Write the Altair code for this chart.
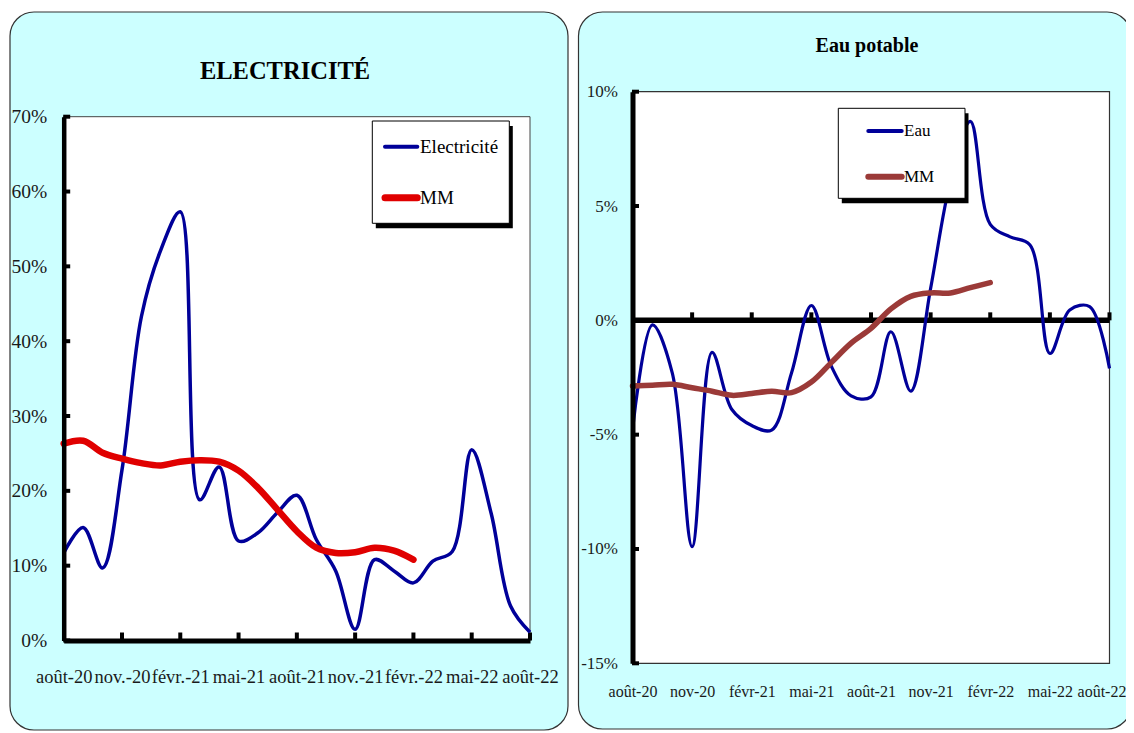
import altair as alt
import pandas as pd

# ---------------- data ----------------
months = list(range(25))  # août-20 ... août-22
elec = [11.7, 15.1, 9.7, 22.8, 43.3, 52.2, 57.3, 18.8, 23.2, 13.3, 14.4, 17.1, 19.4,
        13.5, 9.3, 1.5, 10.8, 9.3, 7.7, 10.6, 11.9, 25.5, 17.0, 4.6, 1.1]
elec_mm = [26.3, 26.7, 25.1, 24.3, 23.7, 23.4, 23.9, 24.1, 23.9, 22.7, 20.4, 17.5,
           14.6, 12.4, 11.7, 11.8, 12.4, 12.0, 10.8]
eau = [-4.8, -0.2, -2.3, -9.9, -1.4, -3.9, -4.6, -4.8, -2.3, 0.65, -2.0, -3.3, -3.35,
       -0.5, -3.1, 1.4, 6.1, 8.7, 4.2, 3.65, 3.3, -1.45, 0.45, 0.6, -2.1]
eau_mm = [-2.87, -2.84, -2.8, -2.95, -3.1, -3.28, -3.2, -3.1, -3.16, -2.7, -1.85, -1.0,
          -0.35, 0.5, 1.05, 1.2, 1.2, 1.43, 1.65]

x_tick_values = [0, 3, 6, 9, 12, 15, 18, 21, 24]
elec_x_labels = ["août-20", "nov.-20", "févr.-21", "mai-21", "août-21", "nov.-21",
                 "févr.-22", "mai-22", "août-22"]
eau_x_labels = ["août-20", "nov-20", "févr-21", "mai-21", "août-21", "nov-21",
                "févr-22", "mai-22", "août-22"]
elec_y_ticks = [0, 10, 20, 30, 40, 50, 60, 70]
eau_y_ticks = [-15, -10, -5, 0, 5, 10]

elec_title = "ELECTRICITÉ"
eau_title = "Eau potable"
elec_legend = ["Electricité", "MM"]
eau_legend = ["Eau", "MM"]

BLUE = "#000099"
RED = "#E00000"
BROWN = "#9B3A38"
CYAN = "#CCFFFF"
FONT = "Liberation Serif"

# ---------------- frames ----------------
df_elec = pd.DataFrame({"m": months, "v": elec})
df_elec_mm = pd.DataFrame({"m": months[:len(elec_mm)], "v": elec_mm})
df_eau = pd.DataFrame({"m": months, "v": eau})
df_eau_mm = pd.DataFrame({"m": months[:len(eau_mm)], "v": eau_mm})

one = pd.DataFrame({"k": [0]})


def label_expr(labels):
    arr = ",".join("'" + s + "'" for s in labels)
    return "[" + arr + "][round(datum.value/3)]"


# ---------------- panel backgrounds ----------------
def box(x0, x1, y0, y1, **kw):
    return alt.Chart(one).mark_rect(**kw).encode(
        x=alt.value(x0), x2=alt.value(x1), y=alt.value(y0), y2=alt.value(y1))


bg = alt.layer(
    box(2, 560, 4, 722, fill=CYAN, stroke="#333333", strokeWidth=1.2, cornerRadius=24),
    box(570.5, 1123, 4, 721, fill=CYAN, stroke="#333333", strokeWidth=1.2, cornerRadius=24),
)


def text_mark(txt, x, y, size, bold=False, align="center", baseline="alphabetic"):
    return alt.Chart(one).mark_text(
        text=txt, font=FONT, fontSize=size, fontWeight="bold" if bold else "normal",
        align=align, baseline=baseline, color="black"
    ).encode(x=alt.value(x), y=alt.value(y))


def legend(bx0, by0, bx1, by1, sx0, sx1, tx, items, size, dx=4, dy=5):
    layers = [
        box(bx0 + dx, bx1 + dx, by0 + dy, by1 + dy, fill="black"),
        box(bx0, bx1, by0, by1, fill="white", stroke="black", strokeWidth=1),
    ]
    for lab, col, w, yy in items:
        layers.append(alt.Chart(one).mark_rule(color=col, strokeWidth=w, strokeCap="round").encode(
            x=alt.value(sx0), x2=alt.value(sx1), y=alt.value(yy)))
        layers.append(text_mark(lab, tx, yy, size, align="left", baseline="middle"))
    return alt.layer(*layers)


# ---------------- panel 1 : électricité ----------------
X1 = alt.Scale(domain=[0, 24], range=[55.7, 522], nice=False, zero=False)
Y1 = alt.Scale(domain=[0, 70], range=[632.5, 108.7], nice=False, zero=False)

ax1 = alt.Axis(orient="bottom", offset=-92.5, values=x_tick_values,
               labelExpr=label_expr(elec_x_labels), labelOverlap=False, labelFlush=False,
               domain=True, domainColor="black", domainWidth=5, ticks=False, tickSize=0,
               grid=False, labelFont=FONT, labelFontSize=18.5, labelColor="#1a1a1a",
               labelPadding=27, title=None, zindex=1)
ay1 = alt.Axis(orient="left", offset=-55.7, values=elec_y_ticks,
               labelExpr="datum.value + '%'", labelOverlap=False, labelFlush=False,
               domain=True, domainColor="black", domainWidth=4.5, ticks=False, tickSize=0,
               grid=False, labelFont=FONT, labelFontSize=19.5, labelColor="#1a1a1a",
               labelPadding=17, title=None, zindex=1)


def enc1(xf, yf):
    return dict(x=alt.X(xf, scale=X1, axis=ax1, title=None),
                y=alt.Y(yf, scale=Y1, axis=ay1, title=None))


p1_rect = alt.Chart(pd.DataFrame({"x0": [0], "x1": [24], "y0": [0], "y1": [70]})).mark_rect(
    fill="white", stroke="#444444", strokeWidth=1
).encode(x2="x1:Q", y2="y1:Q", **enc1("x0:Q", "y0:Q"))

p1_xticks = alt.Chart(pd.DataFrame({"m": x_tick_values[1:], "y": 0})).mark_tick(
    orient="vertical", size=8, thickness=4, color="black", opacity=1, yOffset=-4
).encode(**enc1("m:Q", "y:Q"))

p1_yticks = alt.Chart(pd.DataFrame({"m": 0, "y": elec_y_ticks})).mark_tick(
    orient="horizontal", size=7, thickness=4, color="black", opacity=1, xOffset=3
).encode(**enc1("m:Q", "y:Q"))

p1_line = alt.Chart(df_elec).mark_line(
    color=BLUE, strokeWidth=3.5, interpolate="catmull-rom"
).encode(**enc1("m:Q", "v:Q"))

p1_mm = alt.Chart(df_elec_mm).mark_line(
    color=RED, strokeWidth=6.5, interpolate="catmull-rom", strokeCap="round"
).encode(**enc1("m:Q", "v:Q"))

p1_title = text_mark(elec_title, 277, 71, 24.5, bold=True)
p1_legend = legend(364.3, 113, 501.3, 215.3, 377, 409.3, 412,
                   [(elec_legend[0], BLUE, 4, 138.7), (elec_legend[1], RED, 7, 189.7)], 19,
                   dx=3.5, dy=5)

panel1 = alt.layer(p1_rect, p1_xticks, p1_yticks, p1_line, p1_mm, p1_title, p1_legend)

# ---------------- panel 2 : eau potable ----------------
X2 = alt.Scale(domain=[0, 24], range=[624.5, 1101.5], nice=False, zero=False)
Y2 = alt.Scale(domain=[-15, 10], range=[655.3, 83.7], nice=False, zero=False)

ax2 = alt.Axis(orient="bottom", offset=-69.7, values=x_tick_values,
               labelExpr=label_expr(eau_x_labels), labelOverlap=False, labelFlush=False,
               labelOffset={"condition": {"test": "datum.value == 24", "value": -8}, "value": 0},
               domain=False, ticks=False, tickSize=0, grid=False,
               labelFont=FONT, labelFontSize=16, labelColor="#1a1a1a",
               labelPadding=20, title=None, zindex=1)
ay2 = alt.Axis(orient="left", offset=-624.5, values=eau_y_ticks,
               labelExpr="datum.value + '%'", labelOverlap=False, labelFlush=False,
               domain=True, domainColor="black", domainWidth=5, ticks=False, tickSize=0,
               grid=False, labelFont=FONT, labelFontSize=17, labelColor="#1a1a1a",
               labelPadding=15, title=None, zindex=1)


def enc2(xf, yf):
    return dict(x=alt.X(xf, scale=X2, axis=ax2, title=None),
                y=alt.Y(yf, scale=Y2, axis=ay2, title=None))


p2_rect = alt.Chart(pd.DataFrame({"x0": [0], "x1": [24], "y0": [-15], "y1": [10]})).mark_rect(
    fill="white", stroke="#333333", strokeWidth=1.2
).encode(x2="x1:Q", y2="y1:Q", **enc2("x0:Q", "y0:Q"))

p2_zero = alt.Chart(pd.DataFrame({"x0": [0], "x1": [24], "y0": [0]})).mark_rule(
    color="black", strokeWidth=5.5
).encode(x2="x1:Q", **enc2("x0:Q", "y0:Q"))

p2_xticks = alt.Chart(pd.DataFrame({"m": x_tick_values[1:], "y": 0})).mark_tick(
    orient="vertical", size=8, thickness=4, color="black", opacity=1, yOffset=-4
).encode(**enc2("m:Q", "y:Q"))

p2_yticks = alt.Chart(pd.DataFrame({"m": 0, "y": eau_y_ticks})).mark_tick(
    orient="horizontal", size=7, thickness=4, color="black", opacity=1, xOffset=3
).encode(**enc2("m:Q", "y:Q"))

p2_line = alt.Chart(df_eau).mark_line(
    color=BLUE, strokeWidth=3.2, interpolate="catmull-rom"
).encode(**enc2("m:Q", "v:Q"))

p2_mm = alt.Chart(df_eau_mm).mark_line(
    color=BROWN, strokeWidth=5.5, interpolate="catmull-rom", strokeCap="round"
).encode(**enc2("m:Q", "v:Q"))

p2_title = text_mark(eau_title, 859, 44, 20, bold=True)
p2_legend = legend(830.3, 100.3, 957, 190.3, 860.3, 893.7, 896,
                   [(eau_legend[0], BLUE, 4, 123), (eau_legend[1], BROWN, 6, 168.7)], 17,
                   dx=3.5, dy=5)

panel2 = alt.layer(p2_rect, p2_zero, p2_xticks, p2_yticks, p2_line, p2_mm, p2_title, p2_legend)

chart = alt.layer(bg, panel1, panel2).resolve_scale(
    x="independent", y="independent"
).properties(
    width=1118, height=725, padding=0, background="white",
    autosize=alt.AutoSizeParams(type="none"),
).configure_view(stroke=None)

chart.save("out.html", embed_options={"renderer": "svg", "actions": False})
